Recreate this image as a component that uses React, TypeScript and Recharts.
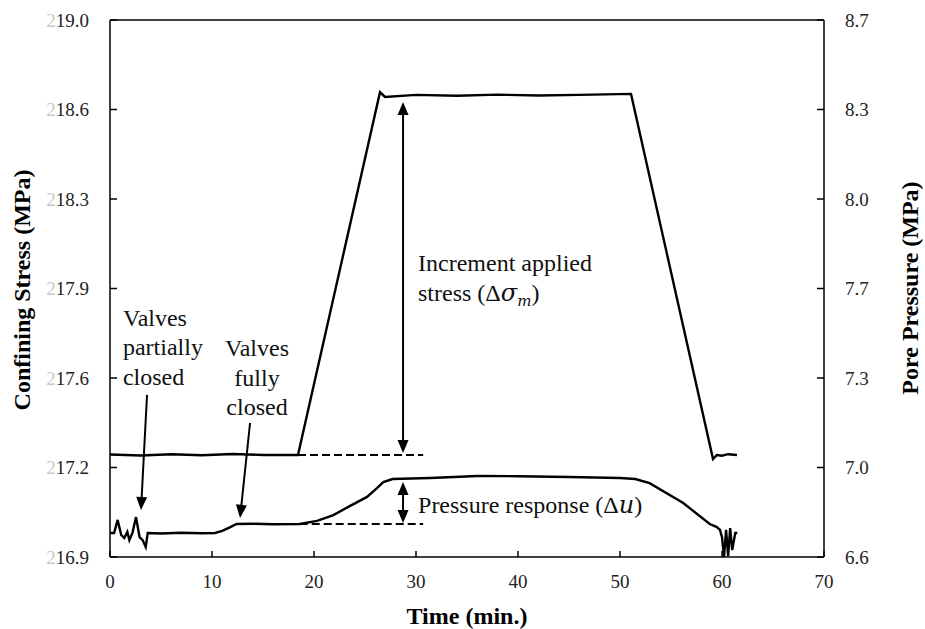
import React from "react"
import { LineChart, Line, XAxis, YAxis, ReferenceLine, ReferenceDot } from "recharts"

const FONT = "Liberation Serif, Times New Roman, serif"

const xTicks = [0, 10, 20, 30, 40, 50, 60, 70]
const stressTicks = [216.9, 217.25, 217.6, 217.95, 218.3, 218.65, 219.0]
const stressTickLabels = ["216.9", "217.2", "217.6", "217.9", "218.3", "218.6", "219.0"]
const poreTicks = [6.6, 6.95, 7.3, 7.65, 8.0, 8.35, 8.7]
const poreTickLabels = ["6.6", "7.0", "7.3", "7.7", "8.0", "8.3", "8.7"]

// confining stress (left axis)
const stressTime = [0, 3, 6, 9, 12, 15, 18.43, 26.47, 26.96, 30, 34, 38, 42, 46, 51.08, 59.12, 59.5, 60.0, 60.6, 61.47]
const stressValue = [217.301, 217.297, 217.302, 217.298, 217.303, 217.299, 217.299, 218.718, 218.699, 218.707, 218.704, 218.708, 218.705, 218.707, 218.711, 217.283, 217.299, 217.296, 217.302, 217.299]

// pore pressure (right axis)
const poreTime = [0, 0.4, 0.75, 1.1, 1.4, 1.7, 1.9, 2.2, 2.55, 2.9, 3.2, 3.5, 3.7, 5, 7, 9, 10.3, 11.0, 11.8, 12.4, 14, 16, 18.6, 20.3, 21.9, 23.5, 25.2, 26.2, 26.8, 27.7, 31.4, 36, 40, 45, 50, 51.5, 52.9, 56.2, 58.8, 59.5, 59.8, 60.0, 60.2, 60.4, 60.6, 60.8, 61.0, 61.3, 61.5]
const poreValue = [6.694, 6.694, 6.745, 6.686, 6.674, 6.698, 6.666, 6.694, 6.756, 6.678, 6.666, 6.639, 6.694, 6.692, 6.695, 6.693, 6.694, 6.702, 6.717, 6.729, 6.73, 6.728, 6.729, 6.741, 6.764, 6.799, 6.835, 6.87, 6.893, 6.905, 6.909, 6.917, 6.916, 6.913, 6.909, 6.905, 6.889, 6.811, 6.729, 6.717, 6.706, 6.678, 6.6, 6.706, 6.604, 6.713, 6.627, 6.694, 6.694]

const stressData = stressTime.map((t, i) => ({ t, v: stressValue[i] }))
const poreData = poreTime.map((t, i) => ({ t, v: poreValue[i] }))

const textStyle = { fontFamily: FONT }

const LeftTick = (p: any) => {
  const label = stressTickLabels[p.index] ?? String(p.payload.value)
  return (
    <g>
      <line x1={p.x + 21} x2={p.x + 28} y1={p.y} y2={p.y} stroke="#000" strokeWidth={1.5} />
      <text x={p.x} y={p.y} dy="0.35em" textAnchor="end" style={textStyle} fontSize={19} fill="#222">
        <tspan fill="#c8c8c8">{label.slice(0, 1)}</tspan>
        <tspan>{label.slice(1)}</tspan>
      </text>
    </g>
  )
}

const RightTick = (p: any) => {
  const label = poreTickLabels[p.index] ?? String(p.payload.value)
  return (
    <g>
      <line x1={p.x - 7} x2={p.x} y1={p.y} y2={p.y} stroke="#000" strokeWidth={1.5} />
      <text x={p.x + 21} y={p.y} dy="0.35em" textAnchor="start" style={textStyle} fontSize={19} fill="#222">
        {label}
      </text>
    </g>
  )
}

const BottomTick = (p: any) => (
  <g>
    <line x1={p.x} x2={p.x} y1={p.y - 6} y2={p.y} stroke="#000" strokeWidth={1.5} />
    <text x={p.x} y={p.y + 31} textAnchor="middle" style={textStyle} fontSize={19} fill="#222">
      {p.payload.value}
    </text>
  </g>
)

const arrowShape = (both: boolean) => (p: any) => {
  const { x1, y1, x2, y2 } = p
  const dx = x2 - x1
  const dy = y2 - y1
  const len = Math.sqrt(dx * dx + dy * dy) || 1
  const ux = dx / len
  const uy = dy / len
  const hl = 13
  const hw = 5.5
  const head = (tx: number, ty: number, dirx: number, diry: number) => {
    const bx = tx - dirx * hl
    const by = ty - diry * hl
    return `${tx},${ty} ${bx - diry * hw},${by + dirx * hw} ${bx + diry * hw},${by - dirx * hw}`
  }
  const sx = both ? x1 + ux * (hl - 2) : x1
  const sy = both ? y1 + uy * (hl - 2) : y1
  return (
    <g>
      <line x1={sx} y1={sy} x2={x2 - ux * (hl - 2)} y2={y2 - uy * (hl - 2)} stroke="#000" strokeWidth={2} />
      <polygon points={head(x2, y2, ux, uy)} fill="#000" />
      {both && <polygon points={head(x1, y1, -ux, -uy)} fill="#000" />}
    </g>
  )
}

const noteShape = (lines: React.ReactNode[], anchor: "start" | "middle") => (p: any) => (
  <text x={p.cx} y={p.cy} textAnchor={anchor} style={textStyle} fontSize={24} fill="#111">
    {lines.map((l, i) => (
      <tspan key={i} x={p.cx} dy={i === 0 ? "0.35em" : 29.5}>
        {l}
      </tspan>
    ))}
  </text>
)

const MATH = { fontFamily: "DejaVu Serif, Liberation Serif, serif", fontStyle: "italic" as const }

export default function App() {
  return (
    <div style={{ position: "fixed", left: 0, top: 0, width: 925, height: 629, background: "#fff", fontFamily: FONT }}>
      <LineChart width={925} height={629} margin={{ top: 20, right: 0, bottom: 0, left: 0 }}>
        <XAxis
          type="number"
          dataKey="t"
          domain={[0, 70]}
          ticks={xTicks}
          height={72}
          tickLine={false}
          tickSize={0}
          tickMargin={0}
          tick={BottomTick}
          axisLine={{ stroke: "#000", strokeWidth: 1.5 }}
          allowDataOverflow
        />
        <YAxis
          yAxisId="left"
          orientation="left"
          width={110}
          domain={[216.9, 219.0]}
          ticks={stressTicks}
          tickLine={false}
          tickSize={0}
          tickMargin={21}
          tick={LeftTick}
          axisLine={{ stroke: "#000", strokeWidth: 1.5 }}
          allowDataOverflow
        />
        <YAxis
          yAxisId="right"
          orientation="right"
          width={101}
          domain={[6.6, 8.7]}
          ticks={poreTicks}
          tickLine={false}
          tickSize={0}
          tickMargin={0}
          tick={RightTick}
          axisLine={{ stroke: "#000", strokeWidth: 1.5 }}
          allowDataOverflow
        />
        <ReferenceLine yAxisId="left" y={219.0} stroke="#000" strokeWidth={1.5} />

        <ReferenceLine
          yAxisId="left"
          segment={[{ x: 18.43, y: 217.299 }, { x: 30.7, y: 217.299 }]}
          stroke="#000"
          strokeWidth={2}
          strokeDasharray="8 4"
        />
        <ReferenceLine
          yAxisId="right"
          segment={[{ x: 18.6, y: 6.729 }, { x: 30.7, y: 6.729 }]}
          stroke="#000"
          strokeWidth={2}
          strokeDasharray="8 4"
        />

        <Line
          yAxisId="left"
          data={stressData}
          dataKey="v"
          type="linear"
          stroke="#000"
          strokeWidth={2.4}
          dot={false}
          isAnimationActive={false}
        />
        <Line
          yAxisId="right"
          data={poreData}
          dataKey="v"
          type="linear"
          stroke="#000"
          strokeWidth={2.4}
          dot={false}
          isAnimationActive={false}
        />

        <ReferenceLine
          yAxisId="left"
          segment={[{ x: 28.73, y: 218.679 }, { x: 28.73, y: 217.307 }]}
          shape={arrowShape(true)}
        />
        <ReferenceLine
          yAxisId="right"
          segment={[{ x: 28.73, y: 6.893 }, { x: 28.73, y: 6.733 }]}
          shape={arrowShape(true)}
        />
        <ReferenceLine
          yAxisId="left"
          segment={[{ x: 3.63, y: 217.534 }, { x: 3.04, y: 217.084 }]}
          shape={arrowShape(false)}
        />
        <ReferenceLine
          yAxisId="left"
          segment={[{ x: 13.73, y: 217.424 }, { x: 12.75, y: 217.053 }]}
          shape={arrowShape(false)}
        />

        <ReferenceDot
          yAxisId="left"
          x={1.27}
          y={217.838}
          r={0}
          shape={noteShape(["Valves", "partially", "closed"], "start")}
        />
        <ReferenceDot
          yAxisId="left"
          x={14.41}
          y={217.717}
          r={0}
          shape={noteShape(["Valves", "fully", "closed"], "middle")}
        />
        <ReferenceDot
          yAxisId="left"
          x={30.2}
          y={218.05}
          r={0}
          shape={noteShape(
            [
              "Increment applied",
              <>
                stress (Δ
                <tspan style={MATH}>σ</tspan>
                <tspan style={MATH} fontSize={15} dy={5}>m</tspan>
                <tspan dy={-5}>)</tspan>
              </>,
            ],
            "start"
          )}
        />
        <ReferenceDot
          yAxisId="left"
          x={30.2}
          y={217.103}
          r={0}
          shape={noteShape(
            [
              <>
                Pressure response (Δ
                <tspan style={MATH}>u</tspan>)
              </>,
            ],
            "start"
          )}
        />
      </LineChart>
      <svg width={925} height={629} style={{ position: "absolute", left: 0, top: 0, pointerEvents: "none" }}>
        <text x={467} y={624} textAnchor="middle" style={textStyle} fontWeight="bold" fontSize={24} fill="#000">
          Time (min.)
        </text>
        <text
          x={30}
          y={290}
          transform="rotate(-90 30 290)"
          textAnchor="middle"
          style={textStyle}
          fontWeight="bold"
          fontSize={24}
          fill="#000"
        >
          Confining Stress (MPa)
        </text>
        <text
          x={918}
          y={288}
          transform="rotate(-90 918 288)"
          textAnchor="middle"
          style={textStyle}
          fontWeight="bold"
          fontSize={24}
          fill="#000"
        >
          Pore Pressure (MPa)
        </text>
      </svg>
    </div>
  )
}
